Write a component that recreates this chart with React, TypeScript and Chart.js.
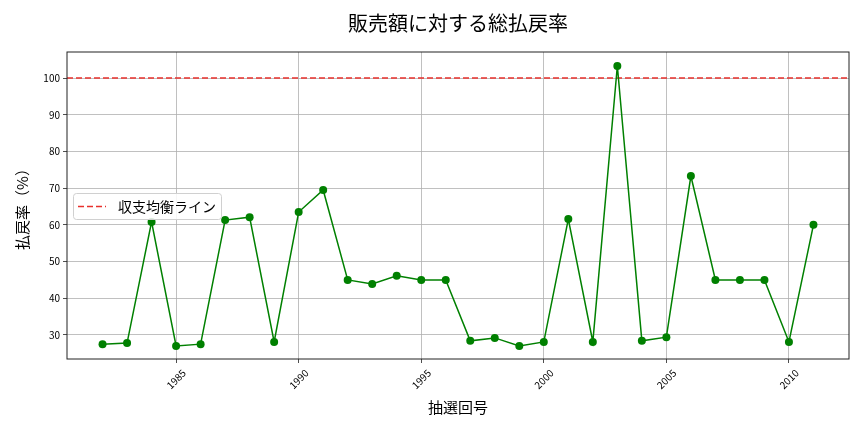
import React, { useEffect, useRef } from "react";
import { Chart, registerables } from "chart.js";

Chart.register(...registerables);

// 抽選回号 (x) and 払戻率 (%)
const years = [
  1982, 1983, 1984, 1985, 1986, 1987, 1988, 1989, 1990, 1991, 1992, 1993, 1994, 1995, 1996,
  1997, 1998, 1999, 2000, 2001, 2002, 2003, 2004, 2005, 2006, 2007, 2008, 2009, 2010, 2011,
];
const payoutRates = [
  27.5, 27.8, 60.8, 27.0, 27.5, 61.3, 62.1, 28.1, 63.5, 69.5, 45.0, 43.9, 46.1, 45.0, 45.0,
  28.4, 29.2, 27.0, 28.1, 61.6, 28.1, 103.3, 28.4, 29.4, 73.3, 45.0, 45.0, 45.0, 28.1, 60.0,
];
const breakEven = 100;
const xTicks = [1985, 1990, 1995, 2000, 2005, 2010];
const yTicks = [30, 40, 50, 60, 70, 80, 90, 100];

const X_MIN = 1980.55;
const X_MAX = 2012.45;
const Y_MIN = 23.45;
const Y_MAX = 107.1;

const FONT = "'Noto Sans CJK JP', 'Noto Sans', sans-serif";
const TITLE = "販売額に対する総払戻率";
const LEGEND_LABEL = "収支均衡ライン";

const framePlugin = {
  id: "frame",
  afterDraw(chart: any) {
    const { ctx, chartArea } = chart;
    ctx.save();
    // axes frame (all four spines)
    ctx.strokeStyle = "#222";
    ctx.lineWidth = 1;
    ctx.strokeRect(chartArea.left, chartArea.top, chartArea.right - chartArea.left, chartArea.bottom - chartArea.top);

    // title
    ctx.fillStyle = "#000";
    ctx.font = `20px ${FONT}`;
    ctx.textAlign = "center";
    ctx.textBaseline = "middle";
    ctx.fillText(TITLE, (chartArea.left + chartArea.right) / 2, 23);

    // legend box
    const bx = chartArea.left + 6;
    const by = 193;
    const bw = 148;
    const bh = 26;
    ctx.fillStyle = "rgba(255,255,255,0.85)";
    ctx.strokeStyle = "#d0d0d0";
    ctx.lineWidth = 1;
    ctx.beginPath();
    ctx.roundRect(bx + 0.5, by + 0.5, bw, bh, 3);
    ctx.fill();
    ctx.stroke();
    const ds = chart.data.datasets[1];
    ctx.strokeStyle = ds.borderColor;
    ctx.lineWidth = ds.borderWidth;
    ctx.setLineDash(ds.borderDash);
    ctx.beginPath();
    ctx.moveTo(bx + 5, by + bh / 2 + 0.5);
    ctx.lineTo(bx + 33, by + bh / 2 + 0.5);
    ctx.stroke();
    ctx.setLineDash([]);
    ctx.fillStyle = "#000";
    ctx.font = `14px ${FONT}`;
    ctx.textAlign = "left";
    ctx.fillText(LEGEND_LABEL, bx + 45, by + bh / 2 + 1);
    ctx.restore();
  },
};

const PayoutChart = () => {
  const chartRef = useRef<HTMLCanvasElement | null>(null);

  useEffect(() => {
    document.body.style.margin = "0";
    if (!chartRef.current) return;
    const ctx = chartRef.current.getContext("2d");
    if (!ctx) return;

    const myChart = new Chart(ctx, {
      type: "line",
      data: {
        datasets: [
          {
            label: "払戻率",
            data: years.map((y, i) => ({ x: y, y: payoutRates[i] })),
            borderColor: "#008000",
            backgroundColor: "#008000",
            borderWidth: 1.5,
            pointRadius: 4,
            pointBorderWidth: 0,
            tension: 0,
          },
          {
            label: LEGEND_LABEL,
            data: [
              { x: X_MIN, y: breakEven },
              { x: X_MAX, y: breakEven },
            ],
            borderColor: "#e8302c",
            borderWidth: 1.5,
            borderDash: [6, 3],
            pointRadius: 0,
          },
        ],
      },
      options: {
        responsive: false,
        animation: false,
        layout: { padding: { top: 52, right: 15, left: 0, bottom: 0 } },
        plugins: {
          legend: { display: false },
          title: { display: false },
          tooltip: { enabled: false },
        },
        scales: {
          x: {
            type: "linear",
            min: X_MIN,
            max: X_MAX,
            afterBuildTicks: (scale: any) => {
              scale.ticks = xTicks.map((v) => ({ value: v }));
            },
            afterFit: (scale: any) => {
              scale.height = 432 - 359;
            },
            ticks: {
              minRotation: 45,
              maxRotation: 45,
              color: "#000",
              font: { family: FONT, size: 10 },
              padding: 4,
              labelOffset: 8,
              callback: (v: any) => String(v),
            },
            grid: { color: "#b0b0b0", lineWidth: 0.8, tickLength: 4, tickColor: "#222" },
            border: { display: false },
            title: {
              display: true,
              text: "抽選回号",
              color: "#000",
              font: { family: FONT, size: 15 },
              padding: { top: 0, bottom: 16 },
            },
          },
          y: {
            min: Y_MIN,
            max: Y_MAX,
            afterBuildTicks: (scale: any) => {
              scale.ticks = yTicks.map((v) => ({ value: v }));
            },
            afterFit: (scale: any) => {
              scale.width = 67;
            },
            ticks: {
              color: "#000",
              font: { family: FONT, size: 10 },
              padding: 3,
              callback: (v: any) => String(v),
            },
            grid: { color: "#b0b0b0", lineWidth: 0.8, tickLength: 4, tickColor: "#222" },
            border: { display: false },
            title: {
              display: true,
              text: "払戻率（%）",
              color: "#000",
              font: { family: FONT, size: 15 },
              padding: { top: 13, bottom: 0 },
            },
          },
        },
      },
      plugins: [framePlugin],
    });

    return () => {
      myChart.destroy();
    };
  }, []);

  return (
    <div style={{ width: 864, height: 432, background: "#fff" }}>
      <canvas ref={chartRef} width={864} height={432} />
    </div>
  );
};

export default function App() {
  return <PayoutChart />;
}
